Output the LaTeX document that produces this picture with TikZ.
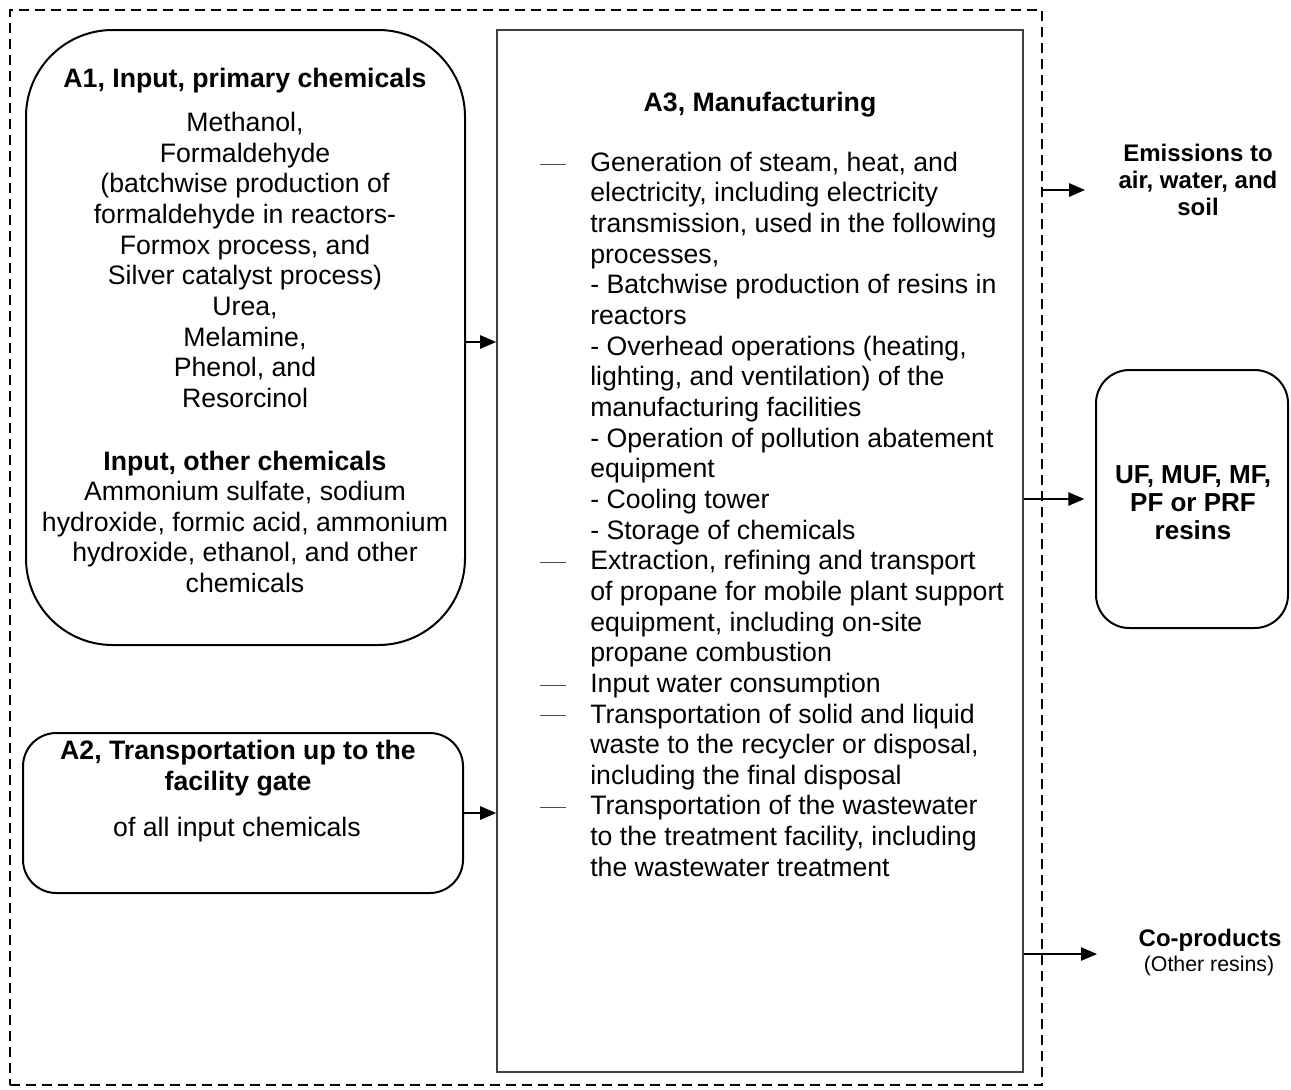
\documentclass[tikz,border=0pt]{standalone}
\usepackage{fontspec}
\setmainfont{Liberation Sans}
\usetikzlibrary{arrows.meta,fit}

\tikzset{
  stage/.style={draw, line width=1.5pt, inner sep=0pt},
  flow/.style={line width=1.1pt, -{Triangle[length=12pt,width=10pt]}},
  txt/.style={font=\fontsize{20}{23}\selectfont, align=center, inner sep=0pt},
  hd/.style={txt, font=\bfseries\fontsize{20}{23}\selectfont},
}

\begin{document}
\begin{tikzpicture}[x=0.75pt,y=-0.75pt]
    \useasboundingbox (0,0) rectangle (1291,1089);

    % system boundary
    \node[draw, dash pattern=on 7.5pt off 4.5pt, line width=2pt, inner sep=0pt,
        fit={(10,10) (1042,1085)}] (sys) {};

    % boxes
    \node[stage, rounded corners=65pt, fit={(26,30) (465,645)}] (a1) {};
    \node[stage, rounded corners=25pt, fit={(23,733) (463,893)}] (a2) {};
    \node[stage, draw=black!75, line width=1.2pt, fit={(497,30) (1023,1072)}] (a3) {};
    \node[stage, rounded corners=25pt, fit={(1096,370) (1288,628)}] (res) {};

    % A1
    \node[hd] (a1head) at (245,81) {A1, Input, primary chemicals};
    \node[txt] (a1body) at (245,260) {Methanol,\\Formaldehyde\\(batchwise production of\\
        formaldehyde in reactors-\\Formox process, and\\Silver catalyst process)\\
        Urea,\\Melamine,\\Phenol, and\\Resorcinol};
    \node[hd] (a1other) at (245,464) {Input, other chemicals};
    \node[txt] (a1rest) at (245,537) {Ammonium sulfate, sodium\\
        hydroxide, formic acid, ammonium\\hydroxide, ethanol, and other\\chemicals};

    % A2
    \node[hd] (a2head) at (238,768) {A2, Transportation up to the\\facility gate};
    \node[txt] (a2body) at (237,830) {of all input chemicals};

    % A3
    \node[hd] (a3head) at (760,105) {A3, Manufacturing};
    \foreach \ln [count=\i] in {
        {Generation of steam, heat, and},
        {electricity, including electricity},
        {transmission, used in the following},
        {processes,},
        {- Batchwise production of resins in},
        {reactors},
        {- Overhead operations (heating,},
        {lighting, and ventilation) of the},
        {manufacturing facilities},
        {- Operation of pollution abatement},
        {equipment},
        {- Cooling tower},
        {- Storage of chemicals},
        {Extraction, refining and transport},
        {of propane for mobile plant support},
        {equipment, including on-site},
        {propane combustion},
        {Input water consumption},
        {Transportation of solid and liquid},
        {waste to the recycler or disposal,},
        {including the final disposal},
        {Transportation of the wastewater},
        {to the treatment facility, including},
        {the wastewater treatment}}
    {
        \node[txt, anchor=west, text height=15pt, text depth=4pt]
            (m\i) at (590,{164+30.65*(\i-1)}) {\ln};
    }
    \foreach \i in {1,14,18,19,22}
        \draw[black!70, line width=0.7pt] (m\i.west) ++(-50,0) -- ++(26,0);

    % outputs
    \node[hd, font=\bfseries\fontsize{18}{20}\selectfont] (emis) at (1198,180)
        {Emissions to\\air, water, and\\soil};
    \node[hd, font=\bfseries\fontsize{19.5}{21}\selectfont] (resin) at (1193,503)
        {UF, MUF, MF,\\PF or PRF\\resins};
    \node[hd, font=\bfseries\fontsize{18}{20}\selectfont] (cop) at (1210,940) {Co-products};
    \node[txt, font=\fontsize{16}{18}\selectfont] (coprest) at (1209,966) {(Other resins)};
    \coordinate (emisEnd) at (1085,190);
    \coordinate (copEnd) at (1097,954);

    % flows
    \draw[flow] (a1.east |- 0,342) -- (a3.west |- 0,342);
    \draw[flow] (a2.east) -- (a2.east -| a3.west);
    \draw[flow, line width=1.5pt] (sys.east |- 0,190) -- (emisEnd);
    \draw[flow, shorten >=8pt] (a3.east |- res.west) -- (res.west);
    \draw[flow] (a3.east |- 0,954) -- (copEnd);
\end{tikzpicture}
\end{document}
